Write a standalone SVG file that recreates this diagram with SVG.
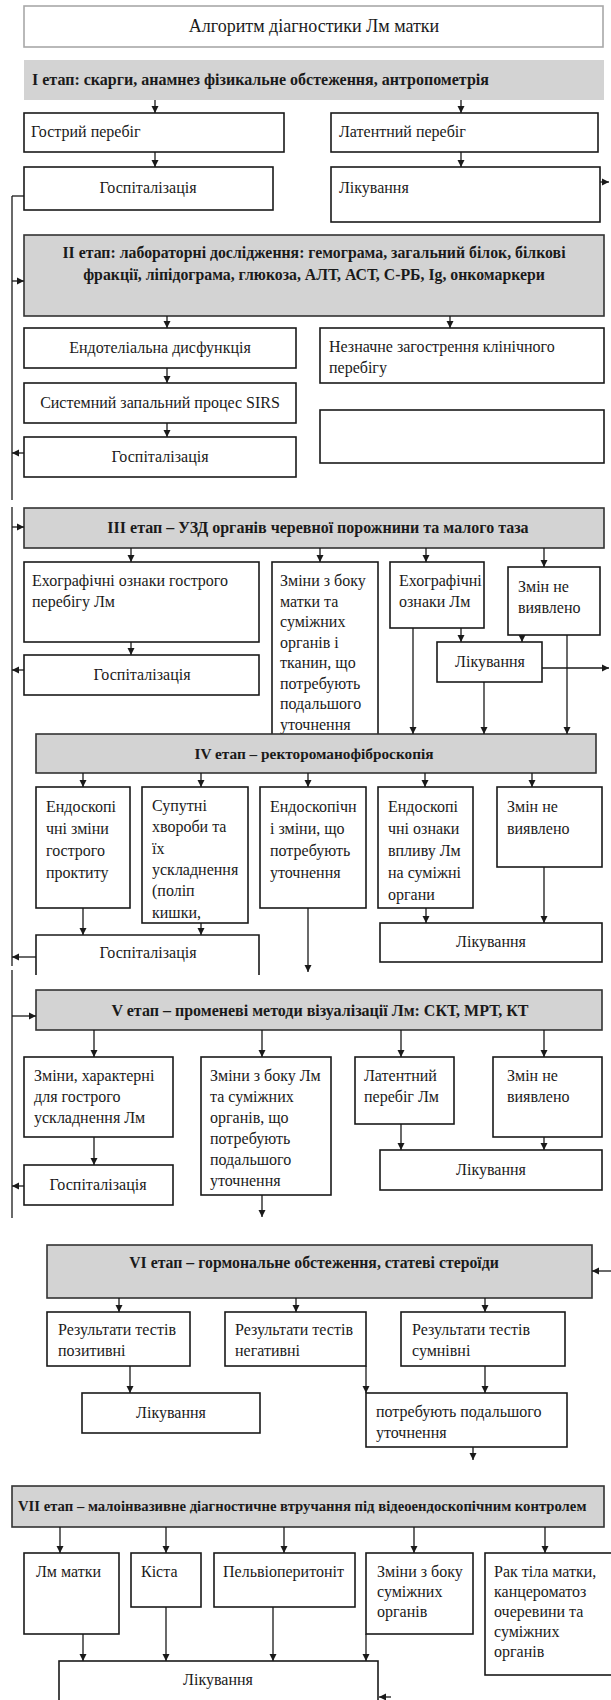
<svg xmlns="http://www.w3.org/2000/svg" width="611" height="1700" viewBox="0 0 611 1700" font-family="'Liberation Serif','Times New Roman',serif">
<style>
.box{fill:#fff;stroke:#1a1a1a;stroke-width:1.6}
.stage{fill:#d3d3d3;stroke:#333;stroke-width:1.6}
.t{font-family:"Liberation Serif","Times New Roman",serif;font-size:16px;fill:#1a1a1a}
.b{font-weight:bold;font-size:16px}
.c{text-anchor:middle}
.conn line,.conn path{stroke:#1a1a1a;stroke-width:1.3;fill:none}
</style>
<defs>
<marker id="ah" markerWidth="8" markerHeight="8" refX="7" refY="4" orient="auto" markerUnits="userSpaceOnUse">
<path d="M0,0.5 L7,4 L0,7.5 z" fill="#1a1a1a"/>
</marker>
</defs>
<rect x="0" y="0" width="611" height="1700" fill="#fff"/>

<g id="title">
<rect x="24" y="6" width="579" height="41" fill="#fff" stroke="#a8a8a8" stroke-width="1.6"/>
<text class="t c" x="314" y="32" style="font-size:18px">Алгоритм діагностики Лм матки</text>
</g>

<g id="stage1">
<rect x="24" y="60" width="580" height="40" fill="#d3d3d3"/>
<text class="t b" x="32" y="85" style="font-size:16px">І етап: скарги, анамнез фізикальне обстеження, антропометрія</text>
</g>
<g id="n1a"><rect class="box" x="24" y="113" width="260" height="39"/><text class="t" x="31" y="137">Гострий перебіг</text></g>
<g id="n1b"><rect class="box" x="331" y="113" width="267" height="39"/><text class="t" x="339" y="137">Латентний перебіг</text></g>
<g id="n1c"><rect class="box" x="24" y="167" width="249" height="43"/><text class="t c" x="148" y="193">Госпіталізація</text></g>
<g id="n1d"><rect class="box" x="331" y="167" width="269" height="55"/><text class="t" x="339" y="193">Лікування</text></g>

<g id="stage2">
<rect class="stage" x="24" y="235" width="580" height="81"/>
<text class="t b c" x="314" y="258" style="font-size:15.8px">II етап: лабораторні дослідження: гемограма, загальний білок, білкові</text>
<text class="t b c" x="314" y="280" style="font-size:15.8px">фракції, ліпідограма, глюкоза, АЛТ, АСТ, С-РБ, Ig, онкомаркери</text>
</g>
<g id="n2a"><rect class="box" x="24" y="328" width="272" height="40"/><text class="t c" x="160" y="353">Ендотеліальна дисфункція</text></g>
<g id="n2b"><rect class="box" x="320" y="328" width="284" height="55"/><text class="t" x="329" y="352">Незначне загострення клінічного<tspan x="329" dy="21">перебігу</tspan></text></g>
<g id="n2c"><rect class="box" x="24" y="383" width="272" height="40"/><text class="t c" x="160" y="408">Системний запальний процес SIRS</text></g>
<g id="n2d"><rect class="box" x="320" y="410" width="284" height="53"/></g>
<g id="n2e"><rect class="box" x="24" y="437" width="272" height="40"/><text class="t c" x="160" y="462">Госпіталізація</text></g>

<g id="stage3">
<rect class="stage" x="24" y="508" width="580" height="40"/>
<text class="t b c" x="318" y="533">ІІІ етап – УЗД органів черевної порожнини та малого таза</text>
</g>
<g id="n3a"><rect class="box" x="24" y="562" width="235" height="80"/><text class="t" x="32" y="586">Ехографічні ознаки гострого<tspan x="32" dy="21">перебігу Лм</tspan></text></g>
<g id="n3b"><rect class="box" x="272" y="562" width="106" height="173"/><text class="t" x="280" y="586">Зміни з боку<tspan x="280" dy="20.5">матки та</tspan><tspan x="280" dy="20.5">суміжних</tspan><tspan x="280" dy="20.5">органів і</tspan><tspan x="280" dy="20.5">тканин, що</tspan><tspan x="280" dy="20.5">потребують</tspan><tspan x="280" dy="20.5">подальшого</tspan><tspan x="280" dy="20.5">уточнення</tspan></text></g>
<g id="n3c"><rect class="box" x="390" y="562" width="94" height="66"/><text class="t" x="399" y="586">Ехографічні<tspan x="399" dy="21">ознаки Лм</tspan></text></g>
<g id="n3d"><rect class="box" x="508" y="567" width="92" height="68"/><text class="t" x="518" y="592">Змін не<tspan x="518" dy="21">виявлено</tspan></text></g>
<g id="n3e"><rect class="box" x="24" y="655" width="235" height="40"/><text class="t c" x="142" y="680">Госпіталізація</text></g>
<g id="n3f"><rect class="box" x="437" y="642" width="105" height="40"/><text class="t c" x="490" y="667">Лікування</text></g>

<g id="stage4">
<rect class="stage" x="36" y="734" width="560" height="39"/>
<text class="t b c" x="314" y="759" style="font-size:15.3px">IV етап – ректороманофіброскопія</text>
</g>
<g id="n4a"><rect class="box" x="36" y="787" width="94" height="121"/><text class="t" x="46" y="812">Ендоскопі<tspan x="46" dy="22">чні зміни</tspan><tspan x="46" dy="22">гострого</tspan><tspan x="46" dy="22">проктиту</tspan></text></g>
<g id="n4b"><rect class="box" x="142" y="787" width="106" height="136"/><text class="t" x="152" y="811">Супутні<tspan x="152" dy="21.3">хвороби та</tspan><tspan x="152" dy="21.3">їх</tspan><tspan x="152" dy="21.3">ускладнення</tspan><tspan x="152" dy="21.3">(поліп</tspan><tspan x="152" dy="21.3">кишки,</tspan></text></g>
<g id="n4c"><rect class="box" x="260" y="787" width="106" height="121"/><text class="t" x="270" y="812">Ендоскопічн<tspan x="270" dy="22">і зміни, що</tspan><tspan x="270" dy="22">потребують</tspan><tspan x="270" dy="22">уточнення</tspan></text></g>
<g id="n4d"><rect class="box" x="378" y="787" width="95" height="121"/><text class="t" x="388" y="812">Ендоскопі<tspan x="388" dy="22">чні ознаки</tspan><tspan x="388" dy="22">впливу Лм</tspan><tspan x="388" dy="22">на суміжні</tspan><tspan x="388" dy="22">органи</tspan></text></g>
<g id="n4e"><rect class="box" x="497" y="787" width="105" height="80"/><text class="t" x="507" y="812">Змін не<tspan x="507" dy="22">виявлено</tspan></text></g>
<g id="n4f"><path d="M36,975 V935 H259 V975" fill="#fff" stroke="#1a1a1a" stroke-width="1.6"/><text class="t c" x="148" y="958">Госпіталізація</text></g>
<g id="n4g"><rect class="box" x="380" y="923" width="222" height="39"/><text class="t c" x="491" y="947">Лікування</text></g>

<g id="stage5">
<rect class="stage" x="36" y="990" width="566" height="40"/>
<text class="t b c" x="320" y="1016">V етап – променеві методи візуалізації Лм: СКТ, МРТ, КТ</text>
</g>
<g id="n5a"><rect class="box" x="24" y="1057" width="149" height="80"/><text class="t" x="34" y="1081">Зміни, характерні<tspan x="34" dy="21">для гострого</tspan><tspan x="34" dy="21">ускладнення Лм</tspan></text></g>
<g id="n5b"><rect class="box" x="201" y="1057" width="130" height="138"/><text class="t" x="210" y="1081">Зміни з боку Лм<tspan x="210" dy="21">та суміжних</tspan><tspan x="210" dy="21">органів, що</tspan><tspan x="210" dy="21">потребують</tspan><tspan x="210" dy="21">подальшого</tspan><tspan x="210" dy="21">уточнення</tspan></text></g>
<g id="n5c"><rect class="box" x="355" y="1057" width="99" height="67"/><text class="t" x="364" y="1081">Латентний<tspan x="364" dy="21">перебіг Лм</tspan></text></g>
<g id="n5d"><rect class="box" x="493" y="1057" width="109" height="80"/><text class="t" x="507" y="1081">Змін не<tspan x="507" dy="21">виявлено</tspan></text></g>
<g id="n5e"><rect class="box" x="24" y="1165" width="149" height="40"/><text class="t c" x="98" y="1190">Госпіталізація</text></g>
<g id="n5f"><rect class="box" x="380" y="1150" width="222" height="40"/><text class="t c" x="491" y="1175">Лікування</text></g>

<g id="stage6">
<rect class="stage" x="47" y="1245" width="545" height="53"/>
<text class="t b c" x="314" y="1268" style="font-size:15.8px">VI етап – гормональне обстеження, статеві стероїди</text>
</g>
<g id="n6a"><rect class="box" x="47" y="1312" width="143" height="54"/><text class="t" x="58" y="1335">Результати тестів<tspan x="58" dy="21">позитивні</tspan></text></g>
<g id="n6b"><rect class="box" x="225" y="1312" width="141" height="54"/><text class="t" x="235" y="1335">Результати тестів<tspan x="235" dy="21">негативні</tspan></text></g>
<g id="n6c"><rect class="box" x="401" y="1312" width="164" height="54"/><text class="t" x="412" y="1335">Результати тестів<tspan x="412" dy="21">сумнівні</tspan></text></g>
<g id="n6d"><rect class="box" x="82" y="1393" width="178" height="40"/><text class="t c" x="171" y="1418">Лікування</text></g>
<g id="n6e"><rect class="box" x="366" y="1393" width="201" height="54"/><text class="t" x="376" y="1417">потребують подальшого<tspan x="376" dy="21">уточнення</tspan></text></g>

<g id="stage7">
<rect class="stage" x="12" y="1486" width="592" height="41"/>
<text class="t b" x="18" y="1511" style="font-size:14.7px">VII етап – малоінвазивне діагностичне втручання під відеоендоскопічним контролем</text>
</g>
<g id="n7a"><rect class="box" x="24" y="1553" width="95" height="81"/><text class="t" x="36" y="1577">Лм матки</text></g>
<g id="n7b"><rect class="box" x="131" y="1553" width="70" height="54"/><text class="t" x="141" y="1577">Кіста</text></g>
<g id="n7c"><rect class="box" x="214" y="1553" width="141" height="54"/><text class="t" x="223" y="1577">Пельвіоперитоніт</text></g>
<g id="n7d"><rect class="box" x="366" y="1553" width="107" height="81"/><text class="t" x="377" y="1577">Зміни з боку<tspan x="377" dy="20">суміжних</tspan><tspan x="377" dy="20">органів</tspan></text></g>
<g id="n7e"><rect class="box" x="485" y="1553" width="135" height="122"/><text class="t" x="494" y="1577">Рак тіла матки,<tspan x="494" dy="20">канцероматоз</tspan><tspan x="494" dy="20">очеревини та</tspan><tspan x="494" dy="20">суміжних</tspan><tspan x="494" dy="20">органів</tspan></text></g>
<g id="n7f"><rect class="box" x="59" y="1661" width="319" height="60"/><text class="t c" x="218" y="1685">Лікування</text></g>

<g id="connectors" class="conn">
<line x1="12" y1="196" x2="12" y2="500"/>
<line x1="12" y1="507" x2="12" y2="966"/>
<line x1="12" y1="970" x2="12" y2="1218"/>
<line x1="12" y1="196" x2="24" y2="196"/>
<line x1="12" y1="281" x2="24" y2="281" marker-end="url(#ah)"/>
<line x1="24" y1="453" x2="12" y2="453" marker-end="url(#ah)"/>
<line x1="12" y1="527" x2="24" y2="527" marker-end="url(#ah)"/>
<line x1="24" y1="670" x2="12" y2="670" marker-end="url(#ah)"/>
<line x1="36" y1="957" x2="12" y2="957" marker-end="url(#ah)"/>
<line x1="12" y1="1016" x2="36" y2="1016" marker-end="url(#ah)"/>
<line x1="24" y1="1186" x2="12" y2="1186" marker-end="url(#ah)"/>

<line x1="155" y1="100" x2="155" y2="113" marker-end="url(#ah)"/>
<line x1="461" y1="100" x2="461" y2="113" marker-end="url(#ah)"/>
<line x1="155" y1="152" x2="155" y2="167" marker-end="url(#ah)"/>
<line x1="461" y1="152" x2="461" y2="167" marker-end="url(#ah)"/>
<line x1="600" y1="182" x2="609" y2="182" marker-end="url(#ah)"/>

<line x1="167" y1="316" x2="167" y2="328" marker-end="url(#ah)"/>
<line x1="450" y1="316" x2="450" y2="328" marker-end="url(#ah)"/>
<line x1="167" y1="368" x2="167" y2="383" marker-end="url(#ah)"/>
<line x1="167" y1="423" x2="167" y2="437" marker-end="url(#ah)"/>

<line x1="131" y1="548" x2="131" y2="562" marker-end="url(#ah)"/>
<line x1="320" y1="548" x2="320" y2="562" marker-end="url(#ah)"/>
<line x1="426" y1="548" x2="426" y2="562" marker-end="url(#ah)"/>
<line x1="544" y1="548" x2="544" y2="567" marker-end="url(#ah)"/>
<line x1="131" y1="642" x2="131" y2="655" marker-end="url(#ah)"/>
<line x1="461" y1="628" x2="461" y2="642" marker-end="url(#ah)"/>
<line x1="522" y1="635" x2="522" y2="642" marker-end="url(#ah)"/>
<line x1="542" y1="668" x2="609" y2="668" marker-end="url(#ah)"/>
<line x1="413" y1="628" x2="413" y2="734" marker-end="url(#ah)"/>
<line x1="484" y1="682" x2="484" y2="734" marker-end="url(#ah)"/>
<line x1="567" y1="635" x2="567" y2="734" marker-end="url(#ah)"/>

<line x1="83" y1="773" x2="83" y2="787" marker-end="url(#ah)"/>
<line x1="201" y1="773" x2="201" y2="787" marker-end="url(#ah)"/>
<line x1="308" y1="773" x2="308" y2="787" marker-end="url(#ah)"/>
<line x1="425" y1="773" x2="425" y2="787" marker-end="url(#ah)"/>
<line x1="532" y1="773" x2="532" y2="787" marker-end="url(#ah)"/>
<line x1="83" y1="908" x2="83" y2="935" marker-end="url(#ah)"/>
<line x1="201" y1="923" x2="201" y2="935" marker-end="url(#ah)"/>
<line x1="308" y1="908" x2="308" y2="972" marker-end="url(#ah)"/>
<line x1="426" y1="908" x2="426" y2="923" marker-end="url(#ah)"/>
<line x1="544" y1="867" x2="544" y2="923" marker-end="url(#ah)"/>

<line x1="94" y1="1030" x2="94" y2="1057" marker-end="url(#ah)"/>
<line x1="262" y1="1030" x2="262" y2="1057" marker-end="url(#ah)"/>
<line x1="401" y1="1030" x2="401" y2="1057" marker-end="url(#ah)"/>
<line x1="544" y1="1030" x2="544" y2="1057" marker-end="url(#ah)"/>
<line x1="94" y1="1137" x2="94" y2="1165" marker-end="url(#ah)"/>
<line x1="401" y1="1124" x2="401" y2="1150" marker-end="url(#ah)"/>
<line x1="544" y1="1137" x2="544" y2="1150" marker-end="url(#ah)"/>
<line x1="262" y1="1195" x2="262" y2="1217" marker-end="url(#ah)"/>

<line x1="611" y1="1271" x2="592" y2="1271" marker-end="url(#ah)"/>
<line x1="119" y1="1298" x2="119" y2="1312" marker-end="url(#ah)"/>
<line x1="296" y1="1298" x2="296" y2="1312" marker-end="url(#ah)"/>
<line x1="485" y1="1298" x2="485" y2="1312" marker-end="url(#ah)"/>
<line x1="130" y1="1366" x2="130" y2="1393" marker-end="url(#ah)"/>
<line x1="366" y1="1366" x2="366" y2="1393" marker-end="url(#ah)"/>
<line x1="485" y1="1366" x2="485" y2="1393" marker-end="url(#ah)"/>
<line x1="473" y1="1447" x2="473" y2="1460" marker-end="url(#ah)"/>

<line x1="60" y1="1527" x2="60" y2="1553" marker-end="url(#ah)"/>
<line x1="166" y1="1527" x2="166" y2="1553" marker-end="url(#ah)"/>
<line x1="284" y1="1527" x2="284" y2="1553" marker-end="url(#ah)"/>
<line x1="414" y1="1527" x2="414" y2="1553" marker-end="url(#ah)"/>
<line x1="545" y1="1527" x2="545" y2="1553" marker-end="url(#ah)"/>
<line x1="83" y1="1634" x2="83" y2="1661" marker-end="url(#ah)"/>
<line x1="166" y1="1607" x2="166" y2="1661" marker-end="url(#ah)"/>
<line x1="273" y1="1607" x2="273" y2="1661" marker-end="url(#ah)"/>
<line x1="366" y1="1634" x2="366" y2="1661" marker-end="url(#ah)"/>
<line x1="391" y1="1697" x2="379" y2="1697" marker-end="url(#ah)"/>
</g>
</svg>
